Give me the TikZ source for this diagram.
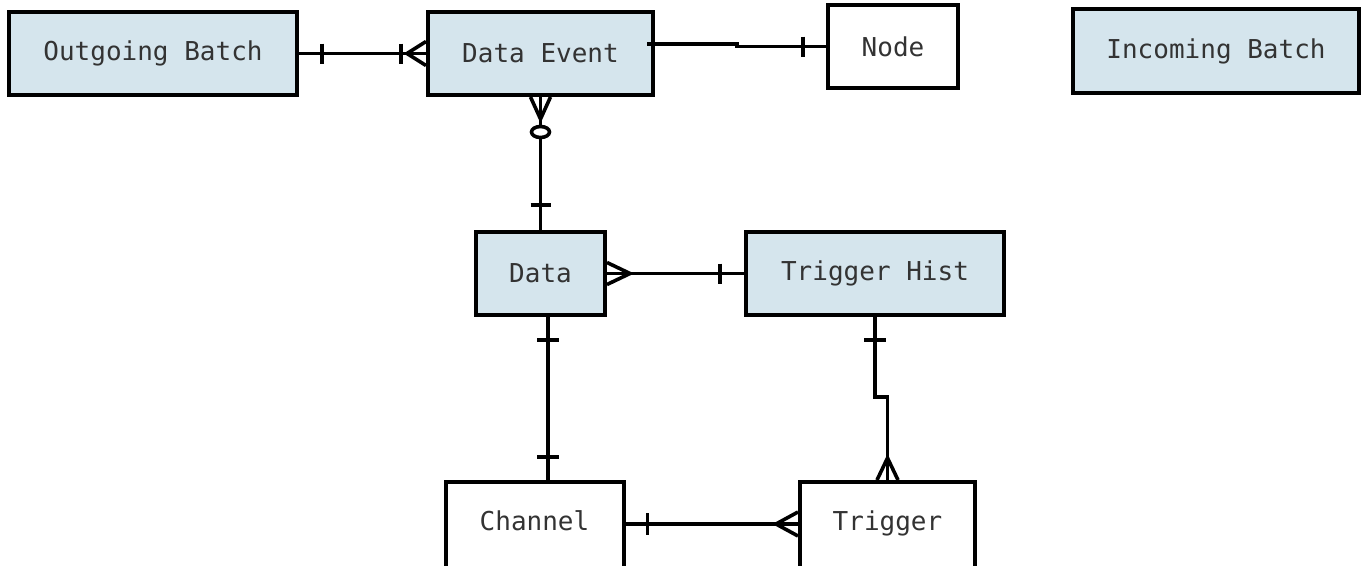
\documentclass[tikz,border=0pt]{standalone}
\usepackage{fontspec}
\setmonofont{DejaVu Sans Mono}
\usetikzlibrary{calc}
\definecolor{boxblue}{HTML}{D5E5ED}
\definecolor{txtgray}{HTML}{333333}
\tikzset{
  entity/.style={draw=black, line width=4pt, fill=#1, inner sep=0pt,
    font=\ttfamily\fontsize{26}{30}\selectfont, text=txtgray},
  entity/.default=white,
  lowtext/.style={text height=19pt, text depth=13pt},
  conn/.style={draw=black, line width=3.6pt},
}
\begin{document}
\begin{tikzpicture}[x=1pt,y=-1pt]
\clip (0,0) rectangle (1364,565);
\fill[white] (0,0) rectangle (1364,565);
% entities
\node[entity=boxblue, minimum width=288pt, minimum height=83pt] (ob) at (153,53.5) {Outgoing Batch};
\node[entity=boxblue, minimum width=225pt, minimum height=83pt] (de) at (540.5,53.5) {Data Event};
\node[entity, minimum width=130pt, minimum height=83pt] (nd) at (893,46.5) {Node};
\node[entity=boxblue, minimum width=286pt, minimum height=84pt] (ib) at (1216,51) {Incoming Batch};
\node[entity=boxblue, minimum width=129pt, minimum height=83pt] (da) at (540.5,273.5) {Data};
\node[entity=boxblue, minimum width=258pt, minimum height=83pt] (th) at (875,273.5) {Trigger Hist};
\node[entity, lowtext, minimum width=178pt, minimum height=90pt] (ch) at (534.5,527) {Channel};
\node[entity, lowtext, minimum width=175pt, minimum height=90pt] (tr) at (887.5,527) {Trigger};
% Outgoing Batch -- Data Event
\draw[conn] (ob.east) -- (de.west);
\draw[conn] ($(ob.east)+(23,-10)$) -- ++(0,20);
\draw[conn] ($(de.west)+(-25,-10)$) -- ++(0,20);
\draw[conn] ($(de.west)+(0,-12)$) -- ($(de.west)+(-19,0)$) -- ($(de.west)+(0,12)$);
% Data Event -- Data
\draw[conn] (de.south) -- (da.north);
\draw[conn] ($(de.south)+(-10,0)$) -- ($(de.south)+(0,22)$) -- ($(de.south)+(10,0)$);
\draw[conn, fill=white] ($(de.south)+(0,35)$) ellipse [x radius=9, y radius=5.5];
\draw[conn] ($(da.north)+(-10,-25)$) -- ++(20,0);
% Data Event -- Node
\coordinate (j1) at (737,44);
\coordinate (j2) at (737,46.5);
\draw[conn] ([yshift=9.5pt,xshift=-8pt]de.east) -- (j1) -- (j2) -- (nd.west);
\draw[conn] ($(nd.west)+(-23,-10)$) -- ++(0,20);
% Data -- Trigger Hist
\draw[conn] (da.east) -- (th.west);
\draw[conn] ($(da.east)+(0,-11)$) -- ($(da.east)+(23,0)$) -- ($(da.east)+(0,11)$);
\draw[conn] ($(th.west)+(-24,-10)$) -- ++(0,20);
% Data -- Channel
\coordinate (c1) at (548,315);
\coordinate (c2) at (548,482);
\draw[conn] (c1) -- (c2);
\draw[conn] ($(c1)+(-11,25)$) -- ++(22,0);
\draw[conn] ($(c2)+(-11,-25)$) -- ++(22,0);
% Trigger Hist -- Trigger
\coordinate (k1) at (875,397);
\coordinate (k2) at (887.5,397);
\draw[conn] (th.south) -- (k1) -- (k2) -- (tr.north);
\draw[conn] ($(th.south)+(-11,23)$) -- ++(22,0);
\draw[conn] ($(tr.north)+(-10.5,0)$) -- ($(tr.north)+(0,-22)$) -- ($(tr.north)+(10.5,0)$);
% Channel -- Trigger
\coordinate (t1) at ([yshift=3pt]ch.east);
\coordinate (t2) at ([yshift=3pt]tr.west);
\draw[conn] (t1) -- (t2);
\draw[conn] ($(t1)+(22,-11)$) -- ++(0,22);
\draw[conn] ($(t2)+(0,-12)$) -- ($(t2)+(-22,0)$) -- ($(t2)+(0,12)$);
\end{tikzpicture}
\end{document}
